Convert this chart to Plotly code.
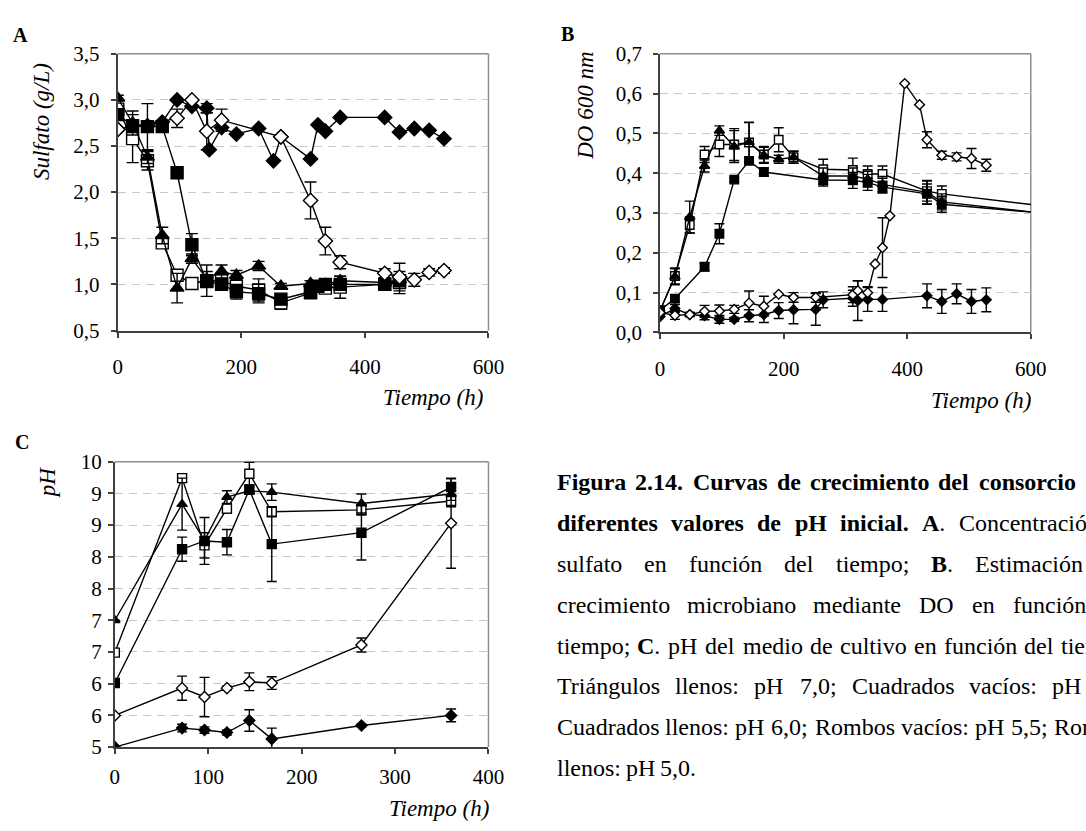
import plotly.graph_objects as go

# ---------------- data ----------------
# Panel A: sulfate (g/L) vs time (h)
a_t_ph70 = [0, 24, 48, 72, 96, 120, 144, 168, 192, 228, 264, 312, 336, 360, 432, 456]
a_v_ph70 = [3.02, 2.75, 2.38, 1.53, 0.96, 1.28, 1.06, 1.14, 1.10, 1.20, 0.98, 1.01, 1.00, 1.04, 1.02, 1.05]
a_e_ph70 = [0.03, 0.13, 0.07, 0.09, 0.16, 0.05, 0.08, 0.07, 0.05, 0.05, 0.03, 0.03, 0.03, 0.05, 0.05, 0.05]

a_t_ph65 = [0, 24, 48, 72, 96, 120, 144, 168, 192, 228, 264, 312, 336, 360, 432, 456]
a_v_ph65 = [2.90, 2.58, 2.34, 1.45, 1.10, 1.01, 1.04, 1.04, 0.98, 0.94, 0.80, 0.91, 0.96, 0.97, 1.00, 1.02]
a_e_ph65 = [0.05, 0.26, 0.10, 0.05, 0.05, 0.05, 0.17, 0.07, 0.08, 0.12, 0.07, 0.03, 0.05, 0.12, 0.05, 0.12]

a_t_ph60 = [0, 24, 48, 72, 96, 120, 144, 168, 192, 228, 264, 312, 324, 336, 360, 432, 456]
a_v_ph60 = [2.84, 2.72, 2.71, 2.71, 2.21, 1.43, 1.03, 1.00, 0.92, 0.90, 0.84, 0.92, 0.98, 1.00, 1.00, 1.00, 1.04]
a_e_ph60 = [0.05, 0.05, 0.25, 0.05, 0.03, 0.12, 0.05, 0.05, 0.08, 0.10, 0.05, 0.03, 0.03, 0.03, 0.03, 0.03, 0.05]

a_t_ph55 = [0, 96, 120, 144, 168, 264, 312, 336, 360, 432, 456, 480, 504, 528]
a_v_ph55 = [2.68, 2.80, 3.00, 2.66, 2.78, 2.60, 1.91, 1.47, 1.24, 1.12, 1.08, 1.05, 1.13, 1.15]
a_e_ph55 = [0.0, 0.10, 0.0, 0.20, 0.12, 0.0, 0.20, 0.15, 0.07, 0.05, 0.15, 0.07, 0.04, 0.03]

a_t_ph50 = [0, 24, 48, 72, 96, 120, 144, 148, 168, 192, 228, 252, 264, 312, 324, 336, 360, 432, 456, 480, 504, 528]
a_v_ph50 = [2.68, 2.72, 2.72, 2.76, 3.00, 2.93, 2.91, 2.46, 2.70, 2.63, 2.69, 2.34, 2.60, 2.36, 2.73, 2.66, 2.81, 2.81, 2.65, 2.69, 2.67, 2.58]
a_e_ph50 = [0, 0, 0, 0, 0, 0, 0.05, 0, 0, 0, 0, 0, 0, 0, 0, 0, 0, 0, 0, 0, 0, 0]

# Panel B: optical density at 600 nm vs time (h)
b_t_ph70 = [0, 24, 48, 72, 96, 120, 144, 168, 192, 216, 264, 312, 336, 360, 432, 456, 720]
b_v_ph70 = [0.055, 0.140, 0.290, 0.418, 0.507, 0.467, 0.478, 0.445, 0.435, 0.440, 0.393, 0.393, 0.385, 0.372, 0.352, 0.328, 0.282]
b_e_ph70 = [0, 0.02, 0.04, 0.015, 0.012, 0.04, 0.05, 0.02, 0.01, 0.015, 0.02, 0.02, 0.02, 0.02, 0.03, 0.02, 0]

b_t_ph65 = [0, 24, 48, 72, 96, 120, 144, 168, 192, 216, 264, 312, 336, 360, 432, 456, 720]
b_v_ph65 = [0.055, 0.142, 0.270, 0.447, 0.472, 0.472, 0.477, 0.447, 0.484, 0.440, 0.410, 0.408, 0.398, 0.398, 0.355, 0.348, 0.299]
b_e_ph65 = [0, 0.02, 0.02, 0.02, 0.03, 0.04, 0.05, 0.02, 0.03, 0.015, 0.025, 0.03, 0.02, 0.02, 0.025, 0.02, 0]

b_t_ph60 = [0, 24, 72, 96, 120, 144, 168, 264, 312, 336, 360, 432, 456, 720]
b_v_ph60 = [0.056, 0.085, 0.165, 0.248, 0.384, 0.431, 0.403, 0.383, 0.382, 0.377, 0.365, 0.348, 0.322, 0.286]
b_e_ph60 = [0, 0.01, 0.01, 0.025, 0.005, 0.005, 0.01, 0.015, 0.02, 0.02, 0.015, 0.025, 0.02, 0]

b_t_ph55 = [0, 24, 48, 72, 96, 120, 144, 168, 192, 216, 252, 312, 320, 336, 348, 360, 372, 396, 420, 432, 456, 480, 504, 528]
b_v_ph55 = [0.050, 0.043, 0.045, 0.053, 0.054, 0.058, 0.074, 0.066, 0.096, 0.088, 0.088, 0.095, 0.105, 0.100, 0.172, 0.213, 0.293, 0.625, 0.572, 0.484, 0.445, 0.441, 0.437, 0.420]
b_e_ph55 = [0, 0.01, 0.005, 0.015, 0.015, 0.01, 0.03, 0.025, 0, 0.012, 0.012, 0.02, 0.025, 0.015, 0, 0.075, 0, 0, 0, 0.02, 0.01, 0.01, 0.025, 0.015]

b_t_ph50 = [0, 24, 48, 72, 96, 120, 144, 168, 192, 216, 252, 264, 312, 320, 336, 360, 432, 456, 480, 504, 528]
b_v_ph50 = [0.040, 0.060, 0.045, 0.042, 0.033, 0.033, 0.042, 0.045, 0.055, 0.057, 0.058, 0.082, 0.086, 0.080, 0.083, 0.083, 0.092, 0.078, 0.097, 0.078, 0.082]
b_e_ph50 = [0, 0.01, 0.005, 0.01, 0.01, 0.005, 0.015, 0.02, 0.02, 0.035, 0.04, 0.02, 0.02, 0.05, 0.03, 0.03, 0.03, 0.03, 0.025, 0.03, 0.03]

# Panel C: pH of the culture medium vs time (h)
c_t = [0, 72, 96, 120, 144, 168, 264, 360]
c_v_ph70 = [7.00, 8.83, 8.26, 8.94, 9.04, 9.02, 8.84, 8.99]
c_e_ph70 = [0, 0.41, 0.05, 0.10, 0.05, 0.13, 0.15, 0.10]
c_v_ph65 = [6.49, 9.24, 8.18, 8.76, 9.31, 8.71, 8.74, 8.88]
c_e_ph65 = [0, 0.06, 0.20, 0.07, 0.18, 0.08, 0.08, 0.09]
c_v_ph60 = [6.01, 8.12, 8.25, 8.23, 9.06, 8.20, 8.38, 9.10]
c_e_ph60 = [0, 0.19, 0.37, 0.20, 0.07, 0.59, 0.43, 0.13]
c_v_ph55 = [5.50, 5.93, 5.79, 5.93, 6.03, 6.01, 6.61, 8.53]
c_e_ph55 = [0, 0.19, 0.31, 0.03, 0.14, 0.10, 0.11, 0.71]
c_v_ph50 = [5.00, 5.30, 5.27, 5.23, 5.42, 5.13, 5.34, 5.50]
c_e_ph50 = [0, 0.06, 0.05, 0.04, 0.17, 0.17, 0.02, 0.10]

c_tickvals = [5, 5.5, 6, 6.5, 7, 7.5, 8, 8.5, 9, 9.5]
c_ticktext = ["5", "6", "6", "7", "7", "8", "8", "9", "9", "10"]

# ---------------- styling ----------------
W, H = 1086, 831
FONT = "Liberation Serif, Times New Roman, serif"
AXIS_COL = "#404040"
BORDER_COL = "#8c8c8c"
GRID_COL = "#c8c8c8"

STYLE = {
    "7.0": dict(symbol="triangle-up", fill="black"),
    "6.5": dict(symbol="square", fill="white"),
    "6.0": dict(symbol="square", fill="black"),
    "5.5": dict(symbol="diamond", fill="white"),
    "5.0": dict(symbol="diamond", fill="black"),
}
SIZES = {
    "x": {"triangle-up": 12, "square": 12, "diamond": 11},
    "x2": {"triangle-up": 9, "square": 8.5, "diamond": 7.5},
    "x3": {"triangle-up": 9, "square": 9, "diamond": 8.5},
}


def series(t, v, e, ph, xa, ya, capw):
    st = STYLE[ph]
    return go.Scatter(
        x=t, y=v, xaxis=xa, yaxis=ya, mode="lines+markers",
        line=dict(color="black", width=1.4),
        marker=dict(symbol=st["symbol"], size=SIZES[xa][st["symbol"]], color=st["fill"],
                    line=dict(color="black", width=1.4)),
        error_y=dict(type="data", array=e, color="black", thickness=1.4, width=capw),
        name="pH " + ph, showlegend=False, hoverinfo="x+y",
    )


fig = go.Figure()
# drawing order: open squares, triangles, filled squares, filled diamonds, open diamonds
for xa, ya, cap, sets in [
    ("x", "y", 6, [(a_t_ph65, a_v_ph65, a_e_ph65, "6.5"), (a_t_ph70, a_v_ph70, a_e_ph70, "7.0"),
                   (a_t_ph60, a_v_ph60, a_e_ph60, "6.0"), (a_t_ph50, a_v_ph50, a_e_ph50, "5.0"),
                   (a_t_ph55, a_v_ph55, a_e_ph55, "5.5")]),
    ("x2", "y2", 5, [(b_t_ph65, b_v_ph65, b_e_ph65, "6.5"), (b_t_ph70, b_v_ph70, b_e_ph70, "7.0"),
                     (b_t_ph60, b_v_ph60, b_e_ph60, "6.0"), (b_t_ph50, b_v_ph50, b_e_ph50, "5.0"),
                     (b_t_ph55, b_v_ph55, b_e_ph55, "5.5")]),
    ("x3", "y3", 5, [(c_t, c_v_ph65, c_e_ph65, "6.5"), (c_t, c_v_ph70, c_e_ph70, "7.0"),
                     (c_t, c_v_ph60, c_e_ph60, "6.0"), (c_t, c_v_ph50, c_e_ph50, "5.0"),
                     (c_t, c_v_ph55, c_e_ph55, "5.5")]),
]:
    for t, v, e, ph in sets:
        fig.add_trace(series(t, v, e, ph, xa, ya, cap))


def dom_x(a, b):
    return [a / W, b / W]


def dom_y(top, bottom):
    return [1 - bottom / H, 1 - top / H]


tick_font = dict(family=FONT, size=21, color="black")
common_x = dict(showline=True, linecolor=AXIS_COL, linewidth=2, ticks="outside", ticklen=5,
                tickcolor=AXIS_COL, tickwidth=1.5, showgrid=False, zeroline=False,
                tickfont=tick_font, fixedrange=True)
common_y = dict(showline=True, linecolor=AXIS_COL, linewidth=2, ticks="outside", ticklen=5,
                tickcolor=AXIS_COL, tickwidth=1.5, showgrid=True, gridcolor=GRID_COL,
                gridwidth=1, griddash="8px,6px", zeroline=False, tickfont=tick_font,
                fixedrange=True)

fig.update_layout(
    width=W, height=H, margin=dict(l=0, r=0, t=0, b=0),
    paper_bgcolor="white", plot_bgcolor="white",
    separators=",.", showlegend=False,
    font=dict(family=FONT, color="black"),
    xaxis=dict(domain=dom_x(115, 493), anchor="y", range=[0, 600], dtick=200,
               ticklabelstandoff=11, **common_x),
    yaxis=dict(domain=dom_y(43, 328), anchor="x", range=[0.5, 3.5], dtick=0.5,
               tickformat=".1f", ticklabelstandoff=7, **common_y),
    xaxis2=dict(domain=dom_x(668, 1046), anchor="y2", range=[0, 600], dtick=200,
                ticklabelstandoff=11, **common_x),
    yaxis2=dict(domain=dom_y(43, 330), anchor="x2", range=[0, 0.7], dtick=0.1,
                tickformat=".1f", ticklabelstandoff=7, **common_y),
    xaxis3=dict(domain=dom_x(112, 493), anchor="y3", range=[0, 400], dtick=100,
                ticklabelstandoff=5, **common_x),
    yaxis3=dict(domain=dom_y(463, 757), anchor="x3", range=[5, 9.5], tickvals=c_tickvals,
                ticktext=c_ticktext, ticklabelstandoff=2, **common_y),
)

# top and right frame of each plot area
for xr, yr in [("x", "y"), ("x2", "y2"), ("x3", "y3")]:
    fig.add_shape(type="line", xref=xr + " domain", yref=yr + " domain", x0=0, x1=1, y0=1, y1=1,
                  line=dict(color=BORDER_COL, width=1.5), layer="below")
    fig.add_shape(type="line", xref=xr + " domain", yref=yr + " domain", x0=1, x1=1, y0=0, y1=1,
                  line=dict(color=BORDER_COL, width=1.5), layer="below")


def label(text, x, y, size, angle=0, xanchor="center"):
    fig.add_annotation(text=text, x=x / W, y=1 - y / H, xref="paper", yref="paper",
                       showarrow=False, textangle=angle, xanchor=xanchor, yanchor="middle",
                       font=dict(family=FONT, size=size, color="black"),
                       borderpad=0, borderwidth=0)


# panel letters
label("<b>A</b>", 16, 24, 20)
label("<b>B</b>", 574, 23, 20)
label("<b>C</b>", 17, 443, 20)

# axis titles
label("<i>Sulfato (g/L)</i>", 37, 113, 23, angle=-90)
label("<i>DO 600 nm</i>", 592, 97, 23, angle=-90)
label("<i>pH</i>", 43, 484, 23, angle=-90)
label("<i>Tiempo (h)</i>", 436, 397, 23)
label("<i>Tiempo (h)</i>", 995, 400, 23)
label("<i>Tiempo (h)</i>", 443, 820, 23)

# ---------------- caption (justified paragraph) ----------------
REG = {" ": 250, ",": 250, ".": 250, ";": 278, ":": 278, "A": 722, "B": 667, "C": 667,
       "D": 722, "E": 611, "F": 556, "H": 722, "O": 722, "R": 667, "T": 611,
       "a": 444, "b": 500, "c": 444, "d": 500, "e": 444, "f": 333, "g": 500, "h": 500,
       "i": 278, "l": 278, "m": 778, "n": 500, "o": 500, "p": 500, "r": 333, "s": 389,
       "t": 278, "u": 500, "v": 500, "á": 444, "í": 278, "ó": 500}
BOLD = {" ": 250, ".": 250, "A": 722, "B": 667, "C": 722, "F": 611, "H": 778,
        "a": 500, "c": 444, "d": 556, "e": 444, "f": 333, "g": 500, "i": 278, "l": 278,
        "m": 833, "n": 556, "o": 500, "p": 556, "r": 444, "s": 389, "t": 333, "u": 556,
        "v": 500}
for d in "0123456789":
    REG[d] = 500
    BOLD[d] = 500

CAP_SIZE = 24
CAP_LEFT = 563
CAP_RIGHT = 1150
caption_lines = [
    ("*Figura* *2.14.* *Curvas* *de* *crecimiento* *del* *consorcio* *a*", 550),
    ("*diferentes* *valores* *de* *pH* *inicial.* *A*. Concentración de", None),
    ("sulfato en función del tiempo; *B*. Estimación del", None),
    ("crecimiento microbiano mediante DO en función del", None),
    ("tiempo; *C*. pH del medio de cultivo en función del tiempo.", None),
    ("Triángulos llenos: pH 7,0; Cuadrados vacíos: pH 6,5;", None),
    ("Cuadrados llenos: pH 6,0; Rombos vacíos: pH 5,5; Rombos", None),
    ("llenos: pH 5,0.", "left"),
]
CAP_Y0, CAP_DY = 484, 42.1


def word_parts(word):
    parts = word.split("*")
    return [(p, i % 2 == 1) for i, p in enumerate(parts) if p]


def word_width(word):
    total = 0
    for txt, bold in word_parts(word):
        table = BOLD if bold else REG
        total += sum(table.get(ch, 500) for ch in txt)
    return total * CAP_SIZE / 1000


def word_html(word):
    return "".join("<b>%s</b>" % t if b else t for t, b in word_parts(word))


for i, (line, mode) in enumerate(caption_lines):
    words = line.split(" ")
    widths = [word_width(w) for w in words]
    y = CAP_Y0 + i * CAP_DY
    if mode == "left":
        gap = 250 * CAP_SIZE / 1000
    else:
        span = (mode if mode else CAP_RIGHT - CAP_LEFT)
        gap = (span - sum(widths)) / (len(words) - 1)
    x = CAP_LEFT
    for w, wd in zip(words, widths):
        if x < W:
            label(word_html(w), x, y, CAP_SIZE, xanchor="left")
        x += wd + gap

fig.write_html("out.html")
